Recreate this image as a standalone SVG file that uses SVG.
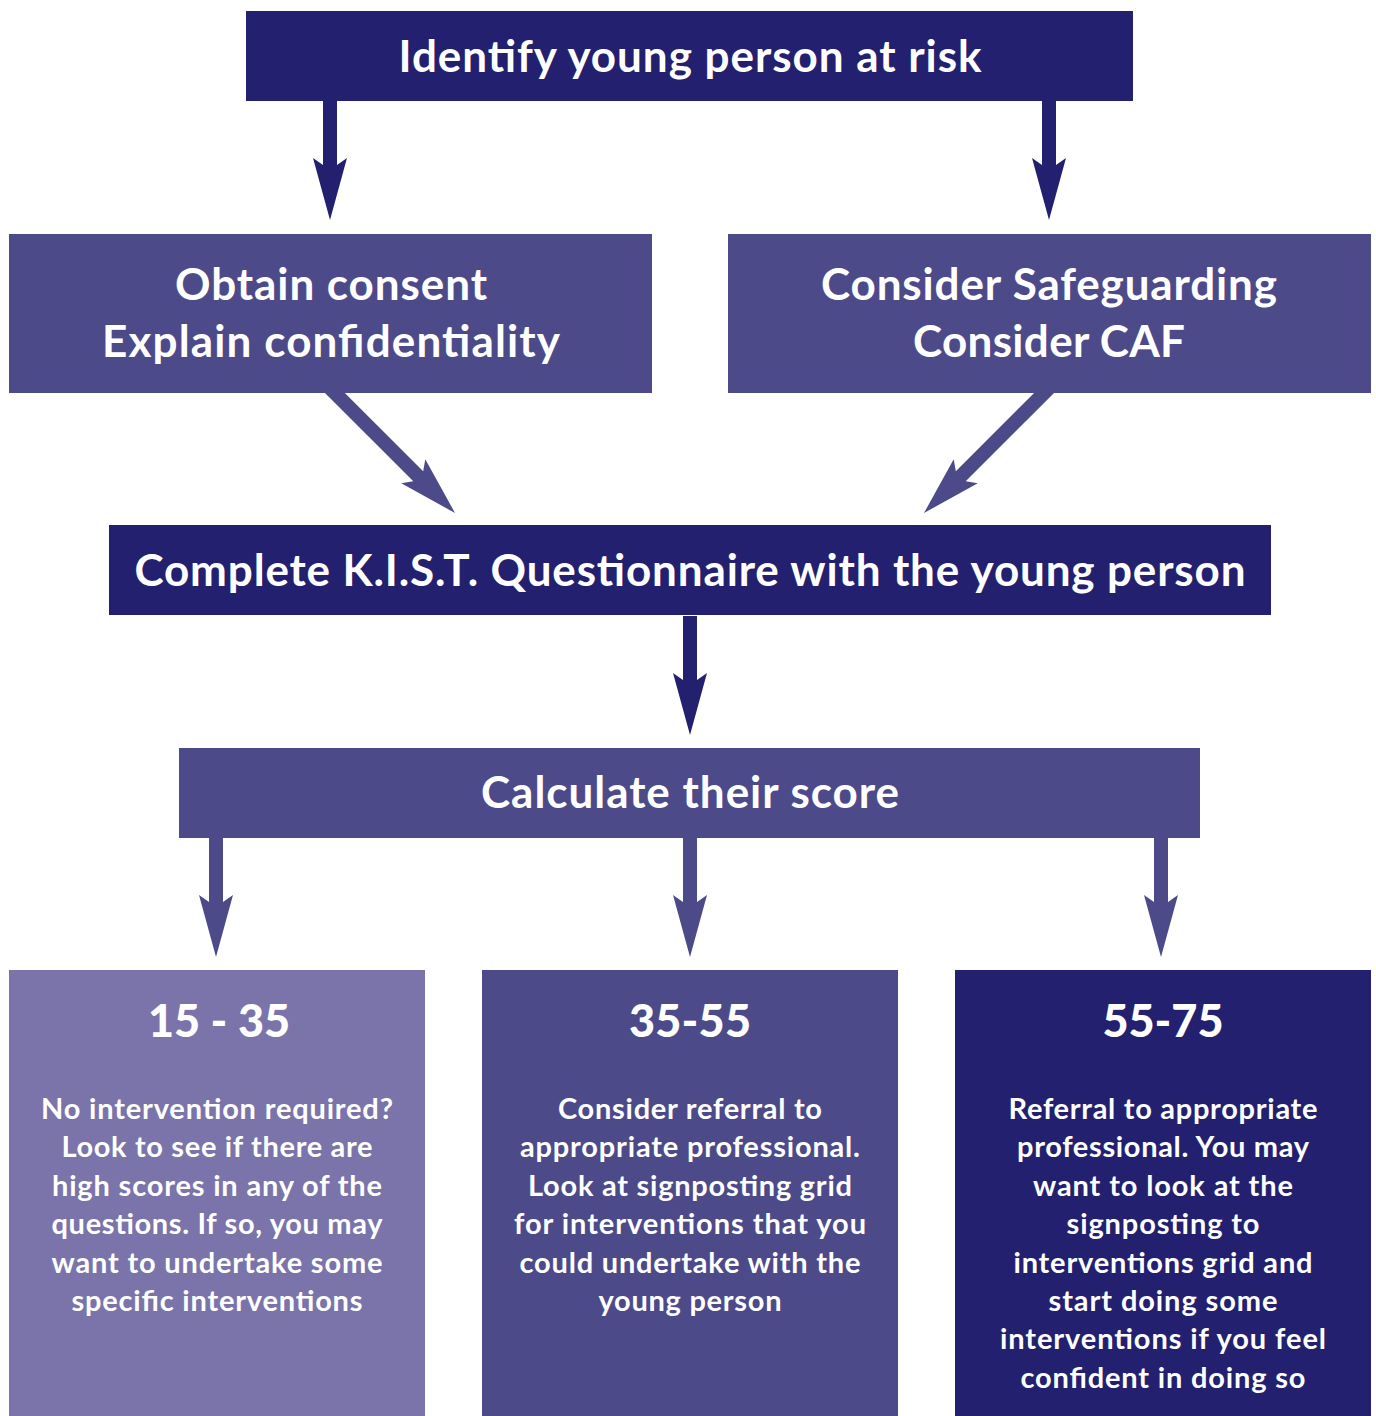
<svg xmlns="http://www.w3.org/2000/svg" width="1376" height="1416" viewBox="0 0 1376 1416">
<style>
.dark{fill:#23216f}
.mid{fill:#4d4a8a}
.light{fill:#7a74aa}
.t{font-family:Lato,"Open Sans","Liberation Sans",sans-serif;font-weight:700;fill:#ffffff;text-anchor:middle}
.h{font-size:44px}
.n{font-size:45px;font-weight:900}
.b{font-size:29px}
</style>
<defs>
<path id="arr" d="M-7,-119 L7,-119 L7,-55 L17,-62 L0,0 L-17,-62 L-7,-55 Z"/>
<path id="diag" d="M-7,-185 L7,-185 L7,-52 L17,-59 L0,0 L-17,-59 L-7,-52 Z"/>
</defs>
<rect width="1376" height="1416" fill="#ffffff"/>
<g id="connectors">
<use href="#arr" class="dark" transform="translate(330,220)"/>
<use href="#arr" class="dark" transform="translate(1049,220)"/>
<use href="#diag" class="mid" transform="translate(455,513) rotate(-45)"/>
<use href="#diag" class="mid" transform="translate(924,513) rotate(45)"/>
<use href="#arr" class="dark" transform="translate(690,735)"/>
<use href="#arr" class="mid" transform="translate(216,957)"/>
<use href="#arr" class="mid" transform="translate(690,957)"/>
<use href="#arr" class="mid" transform="translate(1161,957)"/>
</g>
<g id="identify">
<rect class="dark" x="246" y="11" width="887" height="90"/>
<text class="t h" x="690" y="72" textLength="583">Identify young person at risk</text>
</g>
<g id="consent">
<rect class="mid" x="9" y="234" width="643" height="159"/>
<text class="t h" x="331" y="300" textLength="312">Obtain consent</text>
<text class="t h" x="331" y="357" textLength="458">Explain confidentiality</text>
</g>
<g id="safeguarding">
<rect class="mid" x="728" y="234" width="643" height="159"/>
<text class="t h" x="1049" y="300" textLength="456">Consider Safeguarding</text>
<text class="t h" x="1049" y="357" textLength="272">Consider CAF</text>
</g>
<g id="kist">
<rect class="dark" x="109" y="525" width="1162" height="90"/>
<text class="t h" x="690" y="586" textLength="1111">Complete K.I.S.T. Questionnaire with the young person</text>
</g>
<g id="calculate">
<rect class="mid" x="179" y="748" width="1021" height="90"/>
<text class="t h" x="690" y="808" textLength="418">Calculate their score</text>
</g>
<g id="low">
<rect class="light" x="9" y="970" width="416" height="446"/>
<text class="t n" x="219" y="1037" textLength="142">15 - 35</text>
<text class="t b" x="217" y="1119" textLength="352">No intervention required?</text>
<text class="t b" x="217" y="1157" textLength="311">Look to see if there are</text>
<text class="t b" x="217" y="1196" textLength="330">high scores in any of the</text>
<text class="t b" x="217" y="1234" textLength="331">questions. If so, you may</text>
<text class="t b" x="217" y="1273" textLength="331">want to undertake some</text>
<text class="t b" x="217" y="1311" textLength="291">specific interventions</text>
</g>
<g id="medium">
<rect class="mid" x="482" y="970" width="416" height="446"/>
<text class="t n" x="690" y="1037" textLength="122">35-55</text>
<text class="t b" x="690" y="1119" textLength="264">Consider referral to</text>
<text class="t b" x="690" y="1157" textLength="340">appropriate professional.</text>
<text class="t b" x="690" y="1196" textLength="324">Look at signposting grid</text>
<text class="t b" x="690" y="1234" textLength="352">for interventions that you</text>
<text class="t b" x="690" y="1273" textLength="341">could undertake with the</text>
<text class="t b" x="690" y="1311" textLength="183">young person</text>
</g>
<g id="high">
<rect class="dark" x="955" y="970" width="416" height="446"/>
<text class="t n" x="1163" y="1037" textLength="121">55-75</text>
<text class="t b" x="1163" y="1119" textLength="309">Referral to appropriate</text>
<text class="t b" x="1163" y="1157" textLength="292">professional. You may</text>
<text class="t b" x="1163" y="1196" textLength="260">want to look at the</text>
<text class="t b" x="1163" y="1234" textLength="193">signposting to</text>
<text class="t b" x="1163" y="1273" textLength="299">interventions grid and</text>
<text class="t b" x="1163" y="1311" textLength="229">start doing some</text>
<text class="t b" x="1163" y="1349" textLength="326">interventions if you feel</text>
<text class="t b" x="1163" y="1388" textLength="285">confident in doing so</text>
</g>
</svg>
